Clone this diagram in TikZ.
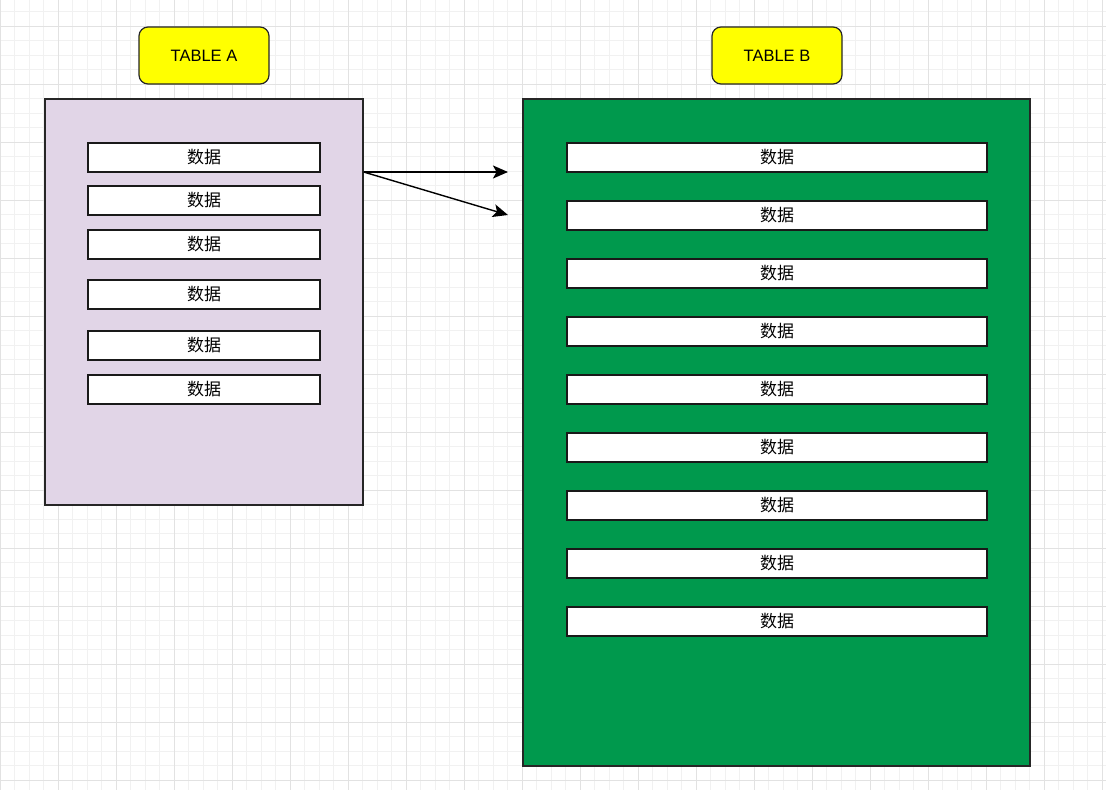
\documentclass[tikz,border=0pt]{standalone}
\usepackage{fontspec}
\setmainfont{Liberation Sans}
\newfontfamily\cjk{Noto Sans CJK SC}
\usepackage{xcolor}
\usetikzlibrary{positioning,arrows.meta}
\definecolor{cmorado}{HTML}{E1D5E7}
\definecolor{cverde}{HTML}{00994D}
\definecolor{camarillo}{HTML}{FFFF00}
\definecolor{cmalla}{HTML}{F1F1F1}
\definecolor{cmallag}{HTML}{E2E2E2}
\tikzset{
  tabla/.style={rectangle, draw=black!85, line width=1.3pt, inner sep=0pt},
  titulo/.style={rectangle, rounded corners=9pt, draw=black!85, line width=1.2pt,
    fill=camarillo, minimum width=130pt, minimum height=57pt, inner sep=0pt,
    font=\fontsize{16.5}{19}\selectfont},
  fila/.style={rectangle, draw=black!90, line width=1.7pt, fill=white, inner sep=0pt,
    minimum height=29pt, font=\fontsize{17}{20}\selectfont\cjk},
  flecha/.style={-{Stealth[length=15pt, width=13pt, inset=3.5pt]}, line width=1.4pt, draw=black},
}

\begin{document}
\begin{tikzpicture}[x=1pt, y=-1pt]
  \useasboundingbox (0,0) rectangle (1106,790);
  \fill[white] (0,0) rectangle (1106,790);
  % malla de fondo
  \foreach \x in {0,14.5,...,1106} \draw[cmalla, line width=0.8pt] (\x,0) -- (\x,790);
  \foreach \y in {11.5,26,...,790} \draw[cmalla, line width=0.8pt] (0,\y) -- (1106,\y);
  \foreach \x in {0,58,...,1106} \draw[cmallag, line width=0.8pt] (\x,0) -- (\x,790);
  \foreach \y in {26,84,...,790} \draw[cmallag, line width=0.8pt] (0,\y) -- (1106,\y);

  \node[titulo] (ta) at (204,55.5) {TABLE A};
  \node[titulo] (tb) at (777,55.5) {TABLE B};
  \node[tabla, fill=cmorado, minimum width=318pt, minimum height=406pt] (a) at (204,302) {};
  \node[tabla, fill=cverde, minimum width=507pt, minimum height=667pt] (b) at (776.5,432.5) {};

  \foreach \y [count=\i] in {157.5,200.5,244.5,294.5,345.5,389.5}
    \node[fila, minimum width=232pt] (a\i) at (204,\y) {数据};
  \foreach \i in {1,...,9}
    \node[fila, minimum width=420pt] (b\i) at (777,{157.5+58*(\i-1)}) {数据};

  \coordinate (p1) at (508,172);
  \coordinate (p2) at (508,215);
  \draw[flecha] (a.east |- 0,172) -- (p1);
  \draw[flecha] (a.east |- 0,172) -- (p2);
\end{tikzpicture}
\end{document}
